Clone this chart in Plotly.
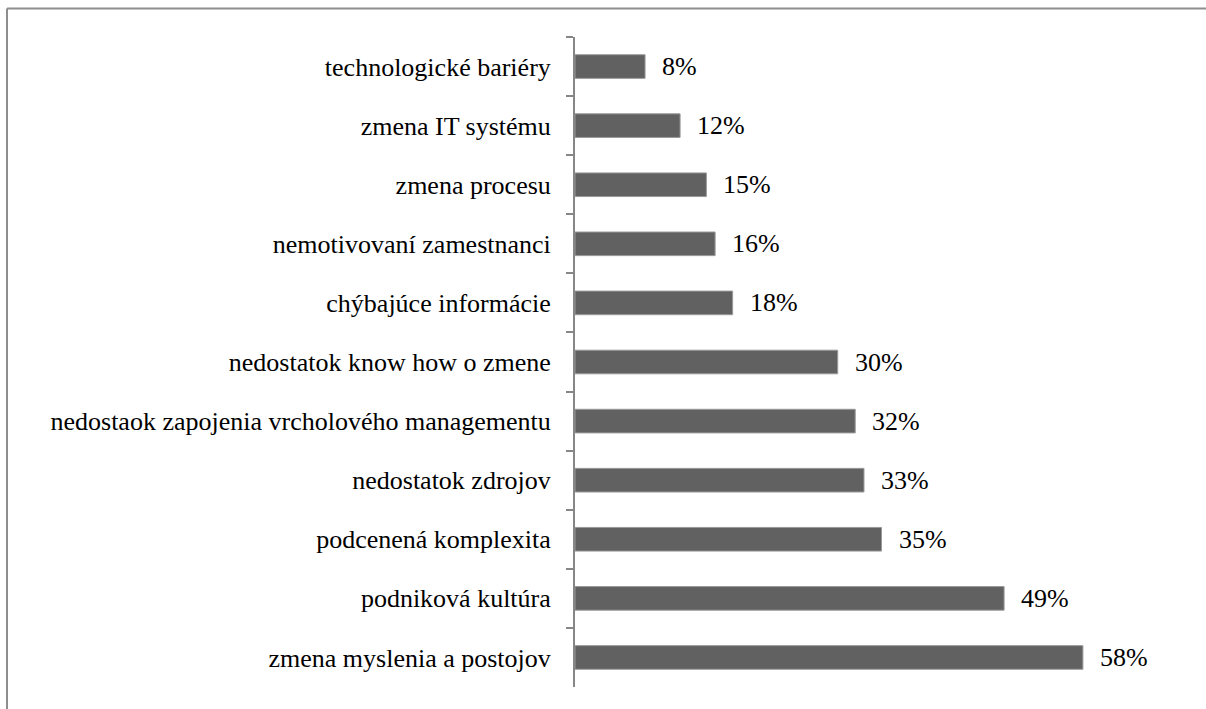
import plotly.graph_objects as go


# ==========================
# DATA
# ==========================

categories = [
    "technologické bariéry",
    "zmena IT systému",
    "zmena procesu",
    "nemotivovaní zamestnanci",
    "chýbajúce informácie",
    "nedostatok know how o zmene",
    "nedostaok zapojenia vrcholového managementu",
    "nedostatok zdrojov",
    "podcenená komplexita",
    "podniková kultúra",
    "zmena myslenia a postojov",
]

values = [0.08, 0.12, 0.15, 0.16, 0.18, 0.30, 0.32, 0.33, 0.35, 0.49, 0.58]


# ==========================
# CHART
# ==========================

fig = go.Figure()

fig.add_trace(
    go.Bar(
        x=values,
        y=categories,
        orientation="h",
        marker=dict(color="#616161", line=dict(color="#9a9a9a", width=1)),
        hoverinfo="skip",
    )
)

for cat, val in zip(categories, values):
    fig.add_annotation(
        x=val,
        y=cat,
        text=f"{val * 100:.0f}%",
        showarrow=False,
        xanchor="left",
        xshift=15,
        font=dict(family="Liberation Serif", size=26, color="black"),
    )

# frame around the chart area: only the top and left edges are in view
frame = dict(color="#8e8e8e", width=2)
fig.add_shape(type="line", xref="paper", yref="paper",
              x0=-0.9266, x1=1.05, y0=1.0438, y1=1.0438, line=frame)
fig.add_shape(type="line", xref="paper", yref="paper",
              x0=-0.9266, x1=-0.9266, y0=-0.06, y1=1.0438, line=frame)

fig.update_layout(
    width=1206,
    height=709,
    margin=dict(l=575, r=18, t=37, b=22),
    paper_bgcolor="white",
    plot_bgcolor="white",
    showlegend=False,
    bargap=0.6,
    xaxis=dict(
        range=[0, 0.70],
        visible=False,
        showgrid=False,
        zeroline=False,
    ),
    yaxis=dict(
        autorange="reversed",
        showline=True,
        linecolor="#868686",
        linewidth=2,
        ticks="outside",
        tickson="boundaries",
        ticklen=7,
        tickcolor="#868686",
        tickwidth=2,
        ticklabelstandoff=17,
        tickfont=dict(family="Liberation Serif", size=26, color="black"),
        showgrid=False,
    ),
)

fig.write_html(
    "out.html",
    config={"displayModeBar": False},
    post_script="document.body.style.margin = '0';",
)
